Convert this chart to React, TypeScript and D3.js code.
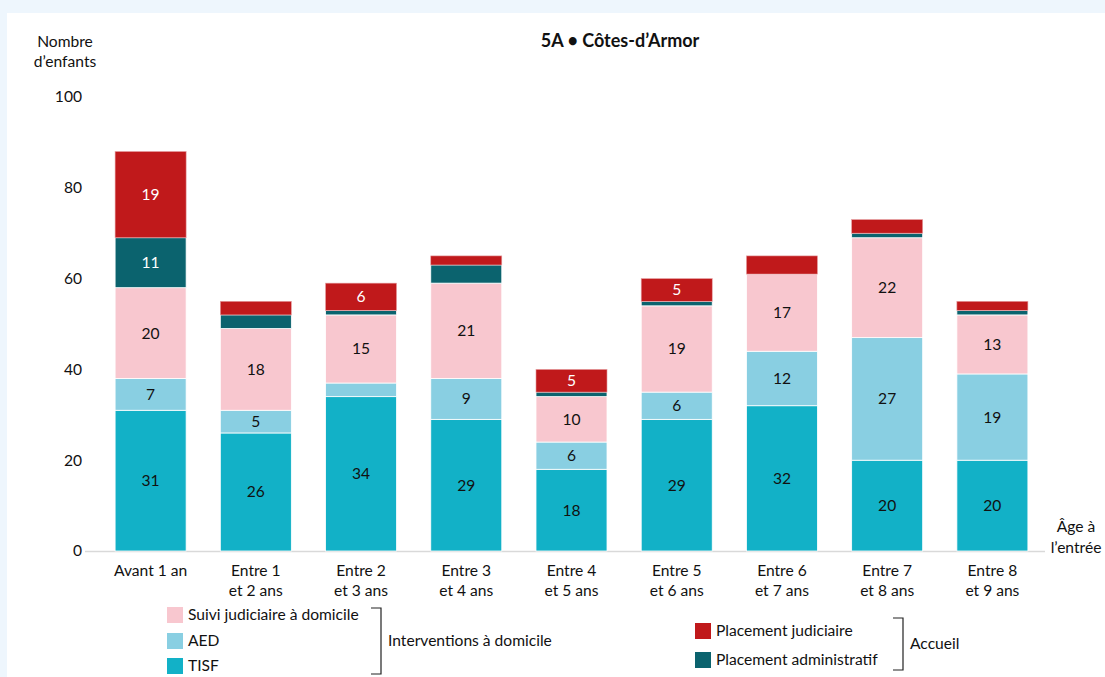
import * as d3 from "d3";
import { useEffect, useRef } from "react";

const categories = [
  ["Avant 1 an"],
  ["Entre 1", "et 2 ans"],
  ["Entre 2", "et 3 ans"],
  ["Entre 3", "et 4 ans"],
  ["Entre 4", "et 5 ans"],
  ["Entre 5", "et 6 ans"],
  ["Entre 6", "et 7 ans"],
  ["Entre 7", "et 8 ans"],
  ["Entre 8", "et 9 ans"],
];

const tisf = [31, 26, 34, 29, 18, 29, 32, 20, 20];
const aed = [7, 5, 3, 9, 6, 6, 12, 27, 19];
const suivi = [20, 18, 15, 21, 10, 19, 17, 22, 13];
const placementAdmin = [11, 3, 1, 4, 1, 1, 0, 1, 1];
const placementJud = [19, 3, 6, 2, 5, 5, 4, 3, 2];

const yTicks = [0, 20, 40, 60, 80, 100];

const seriesKeys = ["tisf", "aed", "suivi", "adm", "jud"];
const colors: Record<string, string> = {
  tisf: "#12b1c7",
  aed: "#89cfe2",
  suivi: "#f8c7cf",
  adm: "#0b636e",
  jud: "#c0191b",
};
const labelColors: Record<string, string> = {
  tisf: "#111",
  aed: "#111",
  suivi: "#111",
  adm: "#fff",
  jud: "#fff",
};

const FONT = "Lato, 'Open Sans', sans-serif";
const FS = "15.6px";

export default function App() {
  const ref = useRef<SVGSVGElement>(null);

  useEffect(() => {
    const svg = d3.select(ref.current);
    svg.selectAll("*").remove();

    const width = 1105;
    const height = 677;

    svg.append("rect").attr("width", width).attr("height", height).attr("fill", "#eef6fd");
    svg.append("rect").attr("x", 7).attr("y", 13).attr("width", width - 7).attr("height", height - 13).attr("fill", "#fff");

    const rows = categories.map((c, i) => ({
      key: i,
      tisf: tisf[i],
      aed: aed[i],
      suivi: suivi[i],
      adm: placementAdmin[i],
      jud: placementJud[i],
    }));

    const x = d3.scaleBand<number>()
      .domain(rows.map((d) => d.key))
      .range([98, 1045])
      .paddingInner(0.325)
      .paddingOuter(0.1625);

    const y = d3.scaleLinear().domain([0, 100]).range([551, 97]);

    const stack = d3.stack<any>().keys(seriesKeys);
    const stacked = stack(rows);

    // y tick labels
    svg.append("g")
      .selectAll("text")
      .data(yTicks)
      .join("text")
      .attr("x", 82)
      .attr("y", (d) => y(d))
      .attr("dy", "0.35em")
      .attr("text-anchor", "end")
      .style("font-family", FONT)
      .style("font-size", FS)
      .style("fill", "#111")
      .text((d) => d);

    // baseline
    svg.append("line")
      .attr("x1", 85).attr("x2", 1045)
      .attr("y1", y(0) + 0.5).attr("y2", y(0) + 0.5)
      .attr("stroke", "#d9d9d9").attr("stroke-width", 1.5);

    const layers = svg.append("g")
      .selectAll("g")
      .data(stacked)
      .join("g")
      .attr("fill", (s) => colors[s.key]);

    layers.selectAll("rect")
      .data((s) => s.map((d) => ({ d, key: s.key })))
      .join("rect")
      .attr("x", (p) => x(p.d.data.key)!)
      .attr("width", x.bandwidth())
      .attr("y", (p) => y(p.d[1]))
      .attr("height", (p) => y(p.d[0]) - y(p.d[1]))
      .attr("stroke", (p) => (p.key === "jud" ? "#e6a0a3" : "#fff"))
      .attr("stroke-width", (p) => (p.key === "jud" ? 0.6 : 0.8));

    // segment labels
    svg.append("g")
      .selectAll("g")
      .data(stacked)
      .join("g")
      .selectAll("text")
      .data((s) => s.filter((d) => d[1] - d[0] >= 5).map((d) => ({ d, key: s.key })))
      .join("text")
      .attr("x", (p) => x(p.d.data.key)! + x.bandwidth() / 2)
      .attr("y", (p) => y((p.d[0] + p.d[1]) / 2))
      .attr("dy", "0.35em")
      .attr("text-anchor", "middle")
      .style("font-family", FONT)
      .style("font-size", FS)
      .style("fill", (p) => labelColors[p.key])
      .text((p) => p.d[1] - p.d[0]);

    // x labels
    const xl = svg.append("g")
      .selectAll("text")
      .data(categories)
      .join("text")
      .attr("x", (_, i) => x(i)! + x.bandwidth() / 2)
      .attr("y", 576)
      .attr("text-anchor", "middle")
      .style("font-family", FONT)
      .style("font-size", FS)
      .style("fill", "#111");
    xl.selectAll("tspan")
      .data((d) => d)
      .join("tspan")
      .attr("x", function () {
        return (this.parentNode as SVGTextElement).getAttribute("x");
      })
      .attr("dy", (_, i) => (i === 0 ? 0 : 20))
      .text((d) => d);

    // titles
    svg.append("text")
      .attr("x", 620).attr("y", 47)
      .attr("text-anchor", "middle")
      .style("font-family", FONT)
      .style("font-size", "18px")
      .style("font-weight", "700")
      .style("fill", "#111")
      .text("5A • Côtes-d’Armor");

    const yTitle = svg.append("text")
      .attr("text-anchor", "middle")
      .style("font-family", FONT)
      .style("font-size", FS)
      .style("fill", "#111");
    yTitle.append("tspan").attr("x", 65).attr("y", 47).text("Nombre");
    yTitle.append("tspan").attr("x", 65).attr("y", 67).text("d’enfants");

    const xTitle = svg.append("text")
      .attr("text-anchor", "middle")
      .style("font-family", FONT)
      .style("font-size", FS)
      .style("fill", "#111");
    xTitle.append("tspan").attr("x", 1076).attr("y", 532).text("Âge à");
    xTitle.append("tspan").attr("x", 1076).attr("y", 553).text("l’entrée");

    // legends
    const legendLeft = [
      { key: "suivi", label: "Suivi judiciaire à domicile", y: 607 },
      { key: "aed", label: "AED", y: 633 },
      { key: "tisf", label: "TISF", y: 658 },
    ];
    const legendRight = [
      { key: "jud", label: "Placement judiciaire", y: 623 },
      { key: "adm", label: "Placement administratif", y: 652 },
    ];

    const drawLegend = (items: typeof legendLeft, sx: number) => {
      const g = svg.append("g");
      g.selectAll("rect")
        .data(items)
        .join("rect")
        .attr("x", sx).attr("y", (d) => d.y)
        .attr("width", 16).attr("height", 16)
        .attr("fill", (d) => colors[d.key]);
      g.selectAll("text")
        .data(items)
        .join("text")
        .attr("x", sx + 21).attr("y", (d) => d.y + 8)
        .attr("dy", "0.35em")
        .style("font-family", FONT)
        .style("font-size", FS)
        .style("fill", "#111")
        .text((d) => d.label);
    };
    drawLegend(legendLeft, 167);
    drawLegend(legendRight, 695);

    const bracket = (bx: number, y0: number, y1: number, label: string) => {
      svg.append("path")
        .attr("d", `M${bx - 10},${y0}H${bx}V${y1}H${bx - 10}`)
        .attr("fill", "none")
        .attr("stroke", "#222")
        .attr("stroke-width", 1.2);
      svg.append("text")
        .attr("x", bx + 7).attr("y", (y0 + y1) / 2)
        .attr("dy", "0.35em")
        .style("font-family", FONT)
        .style("font-size", FS)
        .style("fill", "#111")
        .text(label);
    };
    bracket(381, 608, 674, "Interventions à domicile");
    bracket(903, 618, 670, "Accueil");
  }, []);

  return (
    <svg
      ref={ref}
      width={1105}
      height={677}
      style={{ position: "absolute", left: 0, top: 0, display: "block" }}
    />
  );
}
